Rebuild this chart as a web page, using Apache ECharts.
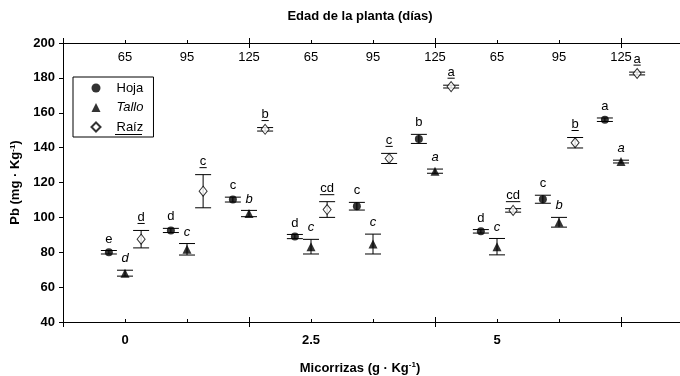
<!DOCTYPE html>
<html>
<head>
<meta charset="utf-8">
<script src="https://cdn.jsdelivr.net/npm/echarts@6/dist/echarts.min.js"></script>
<style>
  html, body { margin: 0; padding: 0; background: #fff; }
  #chart { width: 680px; height: 376px; }
</style>
</head>
<body>
<div id="chart"></div>
<script>
// grupos: dosis de micorrizas x edad de la planta
const dosis = ['0', '2.5', '5'];
const edades = ['65', '95', '125'];

// Pb (mg·Kg-1): media y error, orden 0(65,95,125), 2.5(...), 5(...)
const hoja = [80, 92.5, 110.2, 89, 106.4, 145, 92, 110.4, 156];
const hojaErr = [1, 1.2, 1.4, 1.2, 2.2, 2.6, 1, 2.3, 1];
const tallo = [68, 81.7, 102.2, 83.2, 84.7, 126.5, 83.2, 97.2, 132];
const talloErr = [1.7, 3.3, 1.8, 4.2, 5.7, 1.2, 4.7, 2.8, 0.8];
const raiz = [87.5, 115, 150.5, 104.5, 133.8, 175, 104, 142.8, 182.5];
const raizErr = [5, 9.5, 1, 4.5, 2.9, 0.8, 1, 3, 0.8];

// letras de comparación de medias
const letrasHoja = ['e', 'd', 'c', 'd', 'c', 'b', 'd', 'c', 'a'];
const letrasTallo = ['d', 'c', 'b', 'c', 'c', 'a', 'c', 'b', 'a'];
const letrasRaiz = ['d', 'c', 'b', 'cd', 'c', 'a', 'cd', 'b', 'a'];

const FONT = "'Liberation Sans', Arial, sans-serif";
const shift = [-0.26, 0, 0.26];

// posición en x de cada grupo (1..9) con un pequeño desplazamiento por órgano
const xs = (k) => hoja.map((_, i) => i + 1 + shift[k]);

function points(k, vals) {
  const x = xs(k);
  return vals.map((v, i) => [x[i], v]);
}

function bars(k, vals, errs) {
  const x = xs(k);
  return vals.map((v, i) => [x[i], v - errs[i], v + errs[i]]);
}

function errorSeries(name, k, vals, errs, letras, fontStyle, underline) {
  return {
    name: name,
    type: 'custom',
    z: 2,
    silent: true,
    data: bars(k, vals, errs),
    encode: { x: 0, y: [1, 2] },
    renderItem: function (params, api) {
      const x = api.value(0);
      const lo = api.coord([x, api.value(1)]);
      const hi = api.coord([x, api.value(2)]);
      const w = 8;
      const ln = { stroke: '#000', lineWidth: 1 };
      const letra = letras[params.dataIndex];
      const kids = [
        { type: 'line', shape: { x1: lo[0], y1: lo[1], x2: hi[0], y2: hi[1] }, style: ln },
        { type: 'line', shape: { x1: lo[0] - w, y1: lo[1], x2: lo[0] + w, y2: lo[1] }, style: ln },
        { type: 'line', shape: { x1: hi[0] - w, y1: hi[1], x2: hi[0] + w, y2: hi[1] }, style: ln },
        {
          type: 'text', x: hi[0], y: hi[1] - (underline ? 6.5 : 5),
          style: {
            text: letra, align: 'center', verticalAlign: 'bottom',
            fontSize: 13, fontFamily: FONT, fontStyle: fontStyle, fill: '#000'
          }
        }
      ];
      if (underline) {
        const tw = letra.length * 7.2;
        kids.push({
          type: 'line',
          shape: { x1: hi[0] - tw / 2, y1: hi[1] - 7, x2: hi[0] + tw / 2, y2: hi[1] - 7 },
          style: ln
        });
      }
      return { type: 'group', children: kids };
    }
  };
}

const chart = echarts.init(document.getElementById('chart'));

const axisLine = { show: true, lineStyle: { color: '#000', width: 1 } };
const majorTick = (inside) => ({
  type: 'value', min: 0, max: 10, interval: 3,
  position: inside[0], axisLine: { show: false }, axisLabel: { show: false },
  splitLine: { show: false },
  axisTick: { show: true, inside: inside[1], length: 5, lineStyle: { color: '#000' } }
});

chart.setOption({
  animation: false,
  textStyle: { fontFamily: FONT, color: '#000' },
  grid: { left: 63, top: 43, width: 620, height: 279, outerBoundsMode: 'none' },
  legend: {
    orient: 'vertical',
    left: 73, top: 77,
    borderColor: '#000', borderWidth: 1, borderRadius: 0,
    padding: [4.5, 10, 3.5, 17.5],
    itemGap: 6.5, itemWidth: 9, itemHeight: 9,
    textStyle: { fontSize: 13, lineHeight: 13, color: '#000', fontFamily: FONT, padding: [0, 0, 0, 11] },
    data: [
      { name: 'Hoja' },
      { name: 'Tallo', textStyle: { fontStyle: 'italic' } },
      { name: 'Raíz' }
    ]
  },
  graphic: [{
    type: 'line', shape: { x1: 115, y1: 134.5, x2: 142, y2: 134.5 },
    style: { stroke: '#000', lineWidth: 1 }
  }],
  xAxis: [
    {
      type: 'value', min: 0, max: 10, interval: 1, position: 'bottom',
      name: 'Micorrizas (g · Kg{sup|-1})', nameLocation: 'middle', nameGap: 39,
      nameTextStyle: {
        fontSize: 13, fontWeight: 'bold', color: '#000', padding: [0, 26, 0, 0],
        rich: { sup: { fontSize: 8, fontWeight: 'bold', padding: [0, 0, 7, 0] } }
      },
      axisLine: axisLine,
      axisTick: { show: true, inside: true, length: 3, lineStyle: { color: '#000' } },
      axisLabel: {
        fontSize: 13, fontWeight: 'bold', color: '#000', margin: 12,
        formatter: (v) => ((v - 1) % 3 === 0 && v >= 1 && v <= 9) ? dosis[(v - 1) / 3] : ''
      },
      splitLine: { show: false }
    },
    majorTick(['bottom', false]),
    majorTick(['bottom', true]),
    {
      type: 'value', min: 0, max: 10, interval: 1, position: 'top',
      name: 'Edad de la planta (días)', nameLocation: 'middle', nameGap: 20,
      nameTextStyle: { fontSize: 13, fontWeight: 'bold', color: '#000', padding: [0, 26, 0, 0] },
      axisLine: axisLine,
      axisTick: { show: true, inside: false, length: 3, lineStyle: { color: '#000' } },
      axisLabel: {
        inside: true, margin: 8, fontSize: 13, color: '#000',
        formatter: (v) => (v >= 1 && v <= 9) ? edades[(v - 1) % 3] : ''
      },
      splitLine: { show: false }
    },
    majorTick(['top', false]),
    majorTick(['top', true])
  ],
  yAxis: [
    {
      type: 'value', min: 40, max: 200, interval: 20, position: 'left',
      name: 'Pb (mg · Kg{sup|-1})', nameLocation: 'middle', nameGap: 31,
      nameTextStyle: {
        fontSize: 13, fontWeight: 'bold', color: '#000',
        rich: { sup: { fontSize: 8, fontWeight: 'bold', padding: [0, 0, 7, 0] } }
      },
      axisLine: axisLine,
      axisTick: { show: true, length: 4, lineStyle: { color: '#000' } },
      axisLabel: { fontSize: 13, fontWeight: 'bold', color: '#000', margin: 8 },
      splitLine: { show: false }
    },
    {
      type: 'value', min: 40, max: 200, interval: 20, position: 'right',
      axisLine: axisLine,
      axisTick: { show: true, inside: true, length: 4, lineStyle: { color: '#000' } },
      axisLabel: { show: false },
      splitLine: { show: false }
    }
  ],
  series: [
    errorSeries('errHoja', 0, hoja, hojaErr, letrasHoja, 'normal', false),
    errorSeries('errTallo', 1, tallo, talloErr, letrasTallo, 'italic', false),
    errorSeries('errRaiz', 2, raiz, raizErr, letrasRaiz, 'normal', true),
    {
      name: 'Hoja', type: 'scatter', z: 3, symbol: 'circle', symbolSize: 8,
      itemStyle: { color: '#000' }, data: points(0, hoja)
    },
    {
      name: 'Tallo', type: 'scatter', z: 3, symbol: 'triangle', symbolSize: 9,
      itemStyle: { color: '#000' }, data: points(1, tallo)
    },
    {
      name: 'Raíz', type: 'scatter', z: 3, symbol: 'diamond', symbolSize: [8, 10],
      itemStyle: { color: '#fff', borderColor: '#000', borderWidth: 1 }, data: points(2, raiz)
    }
  ]
});
</script>
</body>
</html>
